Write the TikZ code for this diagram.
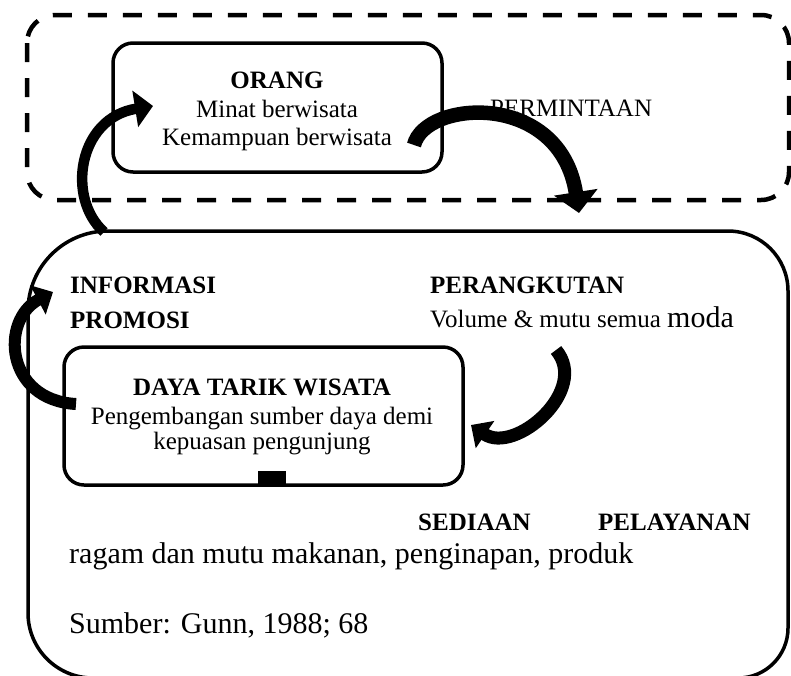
\documentclass[tikz,border=0pt]{standalone}
\usepackage{fontspec}
\setmainfont{Liberation Serif}
\usetikzlibrary{arrows.meta}
\begin{document}
\begin{tikzpicture}[x=1pt,y=-1pt,
  box/.style={draw,line width=3.5pt,rounded corners=20pt,inner sep=0pt},
  txt/.style={inner sep=0pt,font=\fontsize{25}{29}\selectfont},
  bigtxt/.style={inner sep=0pt,font=\fontsize{30}{34}\selectfont},
  bolt/.style={txt,font=\fontsize{25}{29}\selectfont\bfseries},
  fatarrow/.style={line width=#1},
  tipA/.style={-{Triangle[length=18pt,width=36pt]}},
  tipB/.style={-{Triangle[length=21pt,width=43pt]}},
  tipC/.style={-{Triangle[length=17pt,width=32pt]}}
]
\useasboundingbox (0,0) rectangle (791,675);

% dashed outer region (PERMINTAAN)
\draw[line width=4.5pt,dash pattern=on 19pt off 16pt,rounded corners=28pt]
  (27,15) rectangle (789,200);

% large supply frame
\draw[line width=3.5pt]
  (28,613) -- (28,311) arc[start angle=180,end angle=270,radius=80]
  -- (728,231) arc[start angle=270,end angle=360,radius=60]
  -- (788,628) arc[start angle=0,end angle=90,radius=50]
  -- (93,678) arc[start angle=90,end angle=180,radius=65] -- cycle;

% ORANG box
\node[box,minimum width=329pt,minimum height=129pt] (orang) at (277.5,107.5) {};
\node[bolt,anchor=base] (t1) at (277,88) {ORANG};
\node[txt,anchor=base] (t2) at (277,117) {Minat berwisata};
\node[txt,anchor=base] (t3) at (277,145) {Kemampuan berwisata};

\node[txt,anchor=base west] (perm) at (490,116) {PERMINTAAN};

% DAYA TARIK box
\node[box,minimum width=399pt,minimum height=138pt] (daya) at (263.5,416) {};
\node[bolt,anchor=base] (d1) at (262,395) {DAYA TARIK WISATA};
\node[txt,anchor=base] (d2) at (262,424) {Pengembangan sumber daya demi};
\node[txt,anchor=base] (d3) at (262,449) {kepuasan pengunjung};
\node[fill=black,inner sep=0pt,minimum width=28pt,minimum height=15pt] (tab) at (272,478) {};

\node[bolt,anchor=base west] (info) at (70,293) {INFORMASI};
\node[bolt,anchor=base west] (promo) at (70,328) {PROMOSI};
\node[bolt,anchor=base west] (angkut) at (430,293) {PERANGKUTAN};
\node[txt,anchor=base west] (vol) at (430,327) {Volume \& mutu semua {\fontsize{30}{34}\selectfont moda}};

\node[bolt,anchor=base west] (sedia) at (418,530) {SEDIAAN};
\node[bolt,anchor=base west] (layan) at (598,530) {PELAYANAN};
\node[bigtxt,anchor=base west] (ragam) at (69,563) {ragam dan mutu makanan, penginapan, produk};
\node[bigtxt,anchor=base west] (src) at (69,633) {Sumber: Gunn, 1988; 68};

% curved arrows
\coordinate (a1s) at (104,232);
\coordinate (a1e) at (153,106);
\draw[fatarrow=10.5pt,tipA] (a1s) .. controls (66,198) and (78,118) .. (a1e);

\coordinate (a2s) at (414,145);
\coordinate (a2e) at (579,213);
\draw[fatarrow=14.5pt,tipB] (a2s) .. controls (425,100) and (560,90) .. (a2e);

\coordinate (a3s) at (76,404);
\coordinate (a3e) at (53,292);
\draw[fatarrow=12pt,tipC] (a3s) .. controls (5,400) and (0,320) .. (a3e);

\coordinate (a4s) at (556,350);
\coordinate (a4e) at (471,425);
\draw[fatarrow=13pt,tipC] (a4s) .. controls (590,390) and (515,455) .. (a4e);
\end{tikzpicture}
\end{document}
